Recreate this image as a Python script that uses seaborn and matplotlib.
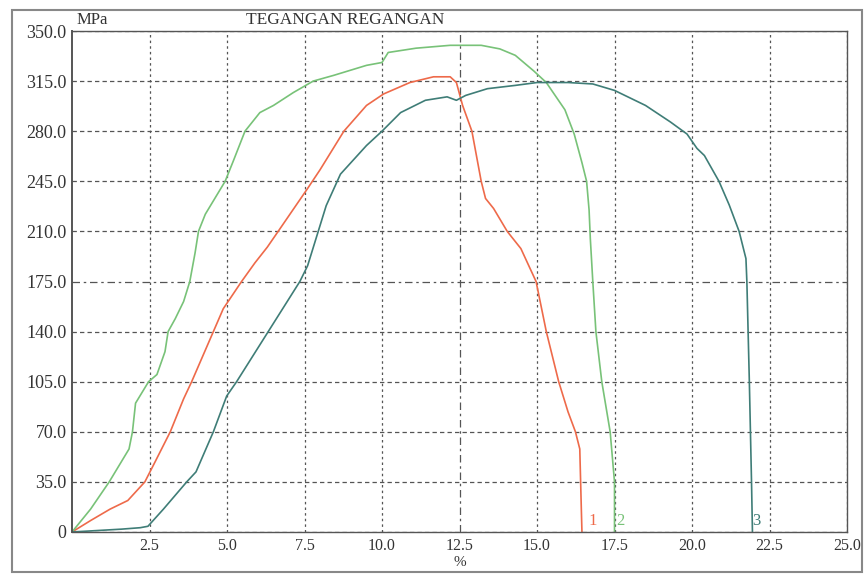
import matplotlib
matplotlib.use("Agg")
import matplotlib.pyplot as plt
from matplotlib.patches import Rectangle
from matplotlib.ticker import MultipleLocator
import seaborn as sns

# specimen 1 (red)
strain_1 = [0, 0.6, 1.23, 1.8, 2.35, 2.68, 3.17, 3.6, 3.86, 4.56, 4.88, 5.47, 5.9, 6.3,
            6.65, 7.6, 8.0, 8.77, 9.5, 10.05, 10.9, 11.66, 12.2, 12.4, 12.6, 12.9, 13.2,
            13.34, 13.6, 14.04, 14.48, 14.97, 15.3, 15.7, 16.0, 16.24, 16.38, 16.43, 16.45]
stress_1 = [0, 8, 16, 22, 35, 49, 70, 93, 105, 140, 156, 175, 188, 199,
            210, 240, 253, 280, 298, 306, 314, 318, 318, 314, 298, 280, 245,
            233, 226, 210, 198, 175, 140, 105, 84, 70, 58, 16, 0]

# specimen 2 (green)
strain_2 = [0, 0.6, 1.2, 1.84, 1.95, 2.05, 2.47, 2.74, 3.0, 3.1, 3.33, 3.6, 3.8, 3.97,
            4.08, 4.3, 4.94, 5.2, 5.58, 6.06, 6.5, 7.14, 7.78, 8.44, 9.5, 10.0, 10.2,
            11.1, 12.2, 13.2, 13.8, 14.3, 14.9, 15.3, 15.9, 16.2, 16.45, 16.6, 16.68,
            16.72, 16.8, 16.9, 17.09, 17.36, 17.5, 17.5]
stress_2 = [0, 16, 35, 58, 70, 90, 105, 110, 126, 140, 149, 161, 175, 195,
            210, 222, 245, 259, 280, 293, 298, 307, 315, 319, 326, 328, 335,
            338, 340, 340, 337.5, 333, 322, 314, 295, 278, 258, 245, 225,
            205, 175, 140, 105, 70, 35, 0]

# specimen 3 (dark teal)
strain_3 = [0, 0.8, 1.6, 2.2, 2.45, 2.95, 3.7, 4.0, 4.56, 4.99, 5.31, 6.33, 7.35, 7.6,
            8.2, 8.66, 9.5, 10.0, 10.6, 11.4, 12.1, 12.4, 12.7, 13.4, 14.3, 15.0,
            16.0, 16.8, 17.5, 18.5, 19.3, 19.84, 20.16, 20.4, 20.87, 21.2, 21.52, 21.74,
            21.77, 21.85, 21.92, 21.95]
stress_3 = [0, 1, 2, 3, 4, 16, 35, 42, 70, 95, 105, 140, 175, 186,
            228, 250, 270, 280, 293, 301.6, 304, 301.6, 305, 309.7, 312, 314,
            314, 313, 308.5, 298, 286.5, 278, 268, 263, 245, 228.5, 210, 191,
            175, 105, 35, 0]

y_ticks = [0, 35, 70, 105, 140, 175, 210, 245, 280, 315, 350]
y_labels = ["0", "35.0", "70.0", "105.0", "140.0", "175.0", "210.0", "245.0",
            "280.0", "315.0", "350.0"]
x_ticks = [2.5, 5.0, 7.5, 10.0, 12.5, 15.0, 17.5, 20.0, 22.5, 25.0]
x_labels = ["2.5", "5.0", "7.5", "10.0", "12.5", "15.0", "17.5", "20.0", "22.5", "25.0"]

sns.set_style("white")
plt.rcParams["font.family"] = ["Liberation Serif", "DejaVu Serif"]

fig = plt.figure(figsize=(8.64, 5.75), dpi=100)
ax = fig.add_axes([72 / 864, 1 - 532 / 575, 775 / 864, 501 / 575])

c1, c2, c3 = "#ee6a4a", "#78c278", "#3f7d77"
sns.lineplot(x=strain_1, y=stress_1, sort=False, estimator=None, color=c1, lw=1.2, ax=ax)
sns.lineplot(x=strain_2, y=stress_2, sort=False, estimator=None, color=c2, lw=1.2, ax=ax)
sns.lineplot(x=strain_3, y=stress_3, sort=False, estimator=None, color=c3, lw=1.2, ax=ax)

ax.set_xlim(0, 25)
ax.set_ylim(0, 350)
ax.set_xticks(x_ticks)
ax.set_xticklabels(x_labels, fontsize=11.5)
ax.set_yticks(y_ticks)
ax.set_yticklabels(y_labels, fontsize=13)
ax.xaxis.set_minor_locator(MultipleLocator(0.5))
ax.tick_params(axis="both", which="major", direction="out", length=3, width=0.8,
               colors="#444", labelcolor="#333", pad=1)
ax.tick_params(axis="x", which="minor", direction="in", length=3, width=0.8, color="#555")
ax.set_xlabel("")
ax.set_ylabel("")

ax.grid(True, which="major", color="#555", linewidth=0.9)
for tick, gl in zip(y_ticks, ax.yaxis.get_gridlines()):
    gl.set_linestyle((0, (3.5, 2.5)))
    if tick == 175:
        gl.set_linestyle((0, (6, 3, 2, 3)))
for tick, gl in zip(x_ticks, ax.xaxis.get_gridlines()):
    gl.set_linestyle((0, (2, 2.5)))
    if tick == 12.5:
        gl.set_linestyle((0, (6, 3, 2, 3)))

for side in ["left", "bottom", "top", "right"]:
    ax.spines[side].set_color("#555")
    ax.spines[side].set_linewidth(1.0)
ax.spines["left"].set_linewidth(1.4)

# curve labels at the end of each specimen
ax.text(16.65, 2, "1", color=c1, fontsize=12, ha="left", va="bottom")
ax.text(17.55, 2, "2", color=c2, fontsize=12, ha="left", va="bottom")
ax.text(21.95, 2, "3", color=c3, fontsize=12, ha="left", va="bottom")

fig.text(77 / 864, 1 - 20 / 575, "MPa", fontsize=12, color="#333", va="center")
fig.text(345 / 864, 1 - 20 / 575, "TEGANGAN REGANGAN", fontsize=12.5, color="#333",
         ha="center", va="center")
fig.text(460 / 864, 1 - 562 / 575, "%", fontsize=11, color="#333", ha="center", va="center")

fig.patches.append(Rectangle((12 / 864, 3 / 575), 850 / 864, 562 / 575,
                             transform=fig.transFigure, fill=False,
                             edgecolor="#888", linewidth=1.5))

fig.savefig("out.png", dpi=100)
